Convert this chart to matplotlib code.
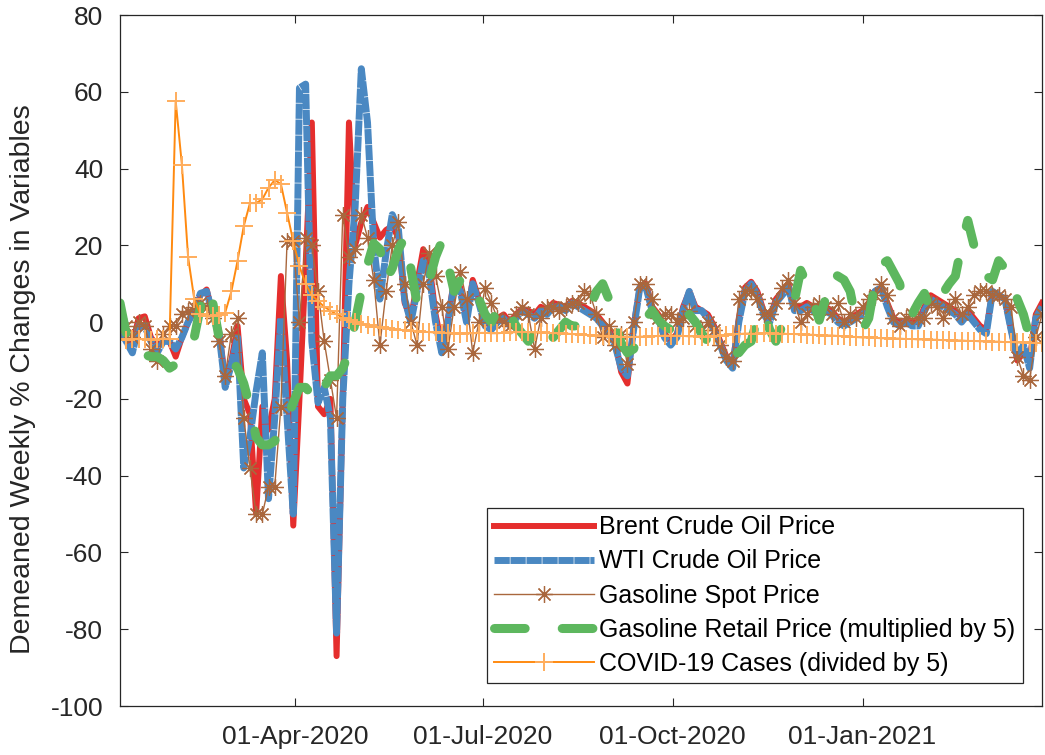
import numpy as np
import pandas as pd
import matplotlib
matplotlib.use("Agg")
import matplotlib.pyplot as plt
import matplotlib.dates as mdates

plt.rcParams['font.family'] = ['Liberation Sans', 'DejaVu Sans']
plt.rcParams['axes.unicode_minus'] = False

# sampling dates (every 3 days)
dates = pd.date_range('2020-01-07', periods=150, freq='3D')

brent = [
    -2, -4, -6, 1, 1.5, -4, -6, -5, -5, -9,
    -4, 0, 3, 7, 8.5, 2, -2, -15, -10, -1,
    -20, -24, -50, -22, -28, -20, 12, -10, -53, -20,
    15, 52, -22, -24, -20, -87, -20, 52, 20, 26,
    30, 26, 22, 24, 25, 22, 5, 1, 10, 19,
    15, 2, -6, 1, 11, 9, 1, 11, 6, 0,
    -1, 1, 2, 0, 2, 3.5, 3, 2, 4, 3,
    5, 4.5, 4, 5.5, 5, 4, 3, 2, 0, -2,
    -5, -13, -16, -1, 9, 10, 4, 2, -3, -5,
    -3, 4, 8, 4, 3, 2, -1, -5, -9, -11,
    1, 9, 10.5, 8, 3, 1, 6, 8, 10, 4,
    4, 5, 4, 3.5, 4, 3, 1, 0, 1, 2,
    3, 5, 8, 9, 5, 1, 0, 0, 0, 0,
    4, 7, 6, 5, 4, 3, 1, 3, 1, -1,
    -2, 8, 7, 6, -2, -10, -8, -10, 2, 5,
]

wti = [
    -2, -5, -8, -1, -1, -5, -8, -5, -5, -7,
    -4, 0, 3, 7.5, 8, 2, -3, -17, -11, -4,
    -38, -30, -18, -8, -46, -25, 1, -25, -50, 61,
    62, -5, -21, -17, -25, -81, -20, 10, 30, 66,
    52, 20, 6, 18, 28, 24, 6, 0, 8, 16,
    12, 0, -8, 0, 10, 8, 0, 10, 5, -1,
    -2, 0, 1, -1, 1, 3, 2, 1, 3, 2,
    4, 4, 3, 5, 4, 3, 2, 1, -1, -3,
    -6, -12, -14, -2, 9, 9, 3, 1, -4, -6,
    -4, 3, 8, 3, 3, 1, -2, -6, -10, -12,
    0, 8, 10, 7, 2, 0, 5, 7, 9, 3,
    3, 4, 3, 2, 3, 2, 0, -1, 0, 1,
    2, 4, 8, 9, 4, 0, -1, 0, -1, -1,
    3, 6, 5, 4, 3, 2, 0, 2, 0, -2,
    -3, 8, 7, 6, -2, -9, -6, -12, 1, 4,
]

spot = [
    -2, -1, -4, 0, -1, -7, -10, -3, -1, -1,
    2, 3, 4, 5, 4, 1, -5, -14, -3, 1,
    -25, -38, -50, -50, -43, -43, -22, 21, 21, 0,
    22, 20, 8, -5, -15, -25, 28, 17, 19, 28,
    22, 11, -6, 8, 20, 26, 10, 0, -6, 10,
    18, 12, 4, -7, 4, 13, 6, -8, 0, 9,
    5, 1, 0, -1, 2, 4, 2, -7, 1, 4,
    4, 3, 4, 5, 5, 8, 7, 2, -4, -1,
    -6, -3, -11, 0, 10, 10, 6, 1, 2, 2,
    0, 1, 3, -1, -2, 0, -2, -6, -9, -10,
    6, 8, 8, 6, 2, 2, 5, 9, 11, 5,
    0, 2, 4, 5, 4, 2, 5, 0, 2, 1,
    4, 6, 7, 10, 7, 1, -1, 1, 2, 1,
    1, 5, 4, 1, 4, 6, 2, 4, 7, 8,
    8, 7, 7, 6, 4, -9, -14, -15, -4, 2,
]

retail = [
    5, -3, -8, -8, -8.5, -9, -9, -10, -12, -11,
    -9, -7, -4, 4, 9, 5, -4, -7, -10, -12,
    -16, -22, -30, -32, -32, -31, -28, -25, -21, -17,
    -17, -19, -21, -17, -14, -14, -12, -8, 0, 8,
    15, 20.5, 19, 11, 14, 19, 22, 14, 5, 6.5,
    11, 17, 21, 15, 8, 11, 12, 10, 6, 2,
    0, 3, 5, 2, -1, -3, -5, -3, 0, -2,
    -4, -2, 0, -1, -1, 0, 4, 8, 10, 6,
    0, -5.5, -8, -7, -3, 1, 3, 0.5, -1, -2,
    -4, -1, 2, 0, -3, -5, -6.5, -6, -6.5, -8,
    -8, -6, -5, 1, 3, -2, -5, -1, 2, 5.7,
    13.5, 10, 5.7, 0.5, 6, 13, 12, 11, 8, 0,
    -2, 1, 10, 15, 16, 13, 10, 2, 2, 5,
    7.5, 3, 4, 7.5, 10, 12, 20, 26.5, 20, 16,
    12, 11, 16, 14, 12, 6, 2, -4, -6, -5,
]

covid = [
    -4.5, -4.6, -4.5, -4.4, -4.5, -4.6, -4.5, -4.4, -4.5, 57.6,
    41, 17, 6, 2, 1.5, 1.5, 1.8, 2.5, 8, 16,
    25, 31, 31, 32, 35, 37, 36, 28.5, 21, 14.5,
    10, 7, 5.5, 4, 3, 2, 1.2, 0.5, 0, -0.5,
    -0.8, -1.2, -1.4, -1.6, -1.8, -2.0, -2.1, -2.3, -2.4, -2.5,
    -2.6, -2.7, -2.8, -2.9, -2.9, -3.0, -2.9, -2.9, -2.8, -2.8,
    -2.9, -2.9, -2.8, -2.7, -2.6, -2.6, -2.6, -2.7, -2.7, -2.8,
    -2.9, -2.9, -3.0, -3.1, -3.2, -3.3, -3.4, -3.5, -3.6, -3.7,
    -3.8, -3.8, -3.9, -3.9, -3.8, -3.8, -3.7, -3.6, -3.5, -3.5,
    -3.5, -3.6, -3.7, -3.7, -3.8, -3.8, -3.7, -3.6, -3.4, -3.2,
    -3.1, -3.0, -3.0, -3.0, -2.9, -2.9, -3.0, -3.0, -3.1, -3.1,
    -3.2, -3.3, -3.3, -3.4, -3.5, -3.5, -3.6, -3.7, -3.8, -3.9,
    -4.0, -4.0, -4.1, -4.2, -4.2, -4.3, -4.3, -4.4, -4.4, -4.5,
    -4.5, -4.6, -4.6, -4.7, -4.7, -4.8, -4.8, -4.9, -4.9, -5.0,
    -5.0, -5.1, -5.1, -5.2, -5.2, -5.3, -5.3, -5.4, -5.4, -5.5,
]

tick_dates = pd.to_datetime(['2020-04-01', '2020-07-01', '2020-10-01', '2021-01-01'])

fig = plt.figure(figsize=(10.45, 7.55), dpi=100)
ax = fig.add_axes([120 / 1045, 1 - 706 / 755, 922 / 1045, 691 / 755])

ax.plot(dates, brent, color='#E52E2D', lw=4.3, solid_joinstyle='round',
        label='Brent Crude Oil Price')
ax.plot(dates, wti, color='#4A88C2', lw=5, linestyle=(0, (2.2, 0.1)),
        dash_capstyle='butt', dash_joinstyle='round', label='WTI Crude Oil Price')
ax.plot(dates, spot, color='#A9673D', lw=1, marker=(8, 2, 0), markersize=12,
        markeredgewidth=0.9, label='Gasoline Spot Price')
ax.plot(dates, retail, color='#5DB75E', lw=6.5, linestyle=(0, (3.4, 4.1)),
        dash_capstyle='round', label='Gasoline Retail Price (multiplied by 5)')
ax.plot(dates, covid, color='#FF8A10', lw=1.4, marker='+', markersize=13,
        markeredgewidth=1.4, markeredgecolor='#FFAD5C',
        label='COVID-19 Cases (divided by 5)')

ax.set_xlim(pd.Timestamp('2020-01-07'), pd.Timestamp('2021-03-29'))
ax.set_ylim(-100, 80)
ax.set_yticks(np.arange(-100, 81, 20))
ax.set_xticks(tick_dates)
ax.xaxis.set_major_formatter(mdates.DateFormatter('%d-%b-%Y'))

for s in ax.spines.values():
    s.set_color('#262626')
    s.set_linewidth(0.9)
ax.tick_params(direction='in', length=6, width=0.8, colors='#262626',
               labelsize=19, top=True, right=True)
ax.tick_params(axis='x', pad=14)
ax.tick_params(axis='y', pad=12)

fig.text(23 / 1045, 1 - 379 / 755, 'Demeaned Weekly % Changes in Variables',
         rotation=90, ha='center', va='center', fontsize=20.5, color='#262626')

leg = ax.legend(loc='lower right', bbox_to_anchor=(1023 / 1045, 72 / 755),
                bbox_transform=fig.transFigure, fontsize=18, handlelength=4.0,
                handletextpad=0.2, borderpad=0.3, labelspacing=0.4,
                fancybox=False, framealpha=1, borderaxespad=0)
leg.get_frame().set_edgecolor('#262626')
leg.get_frame().set_linewidth(0.9)

fig.savefig('out.png', dpi=100)
